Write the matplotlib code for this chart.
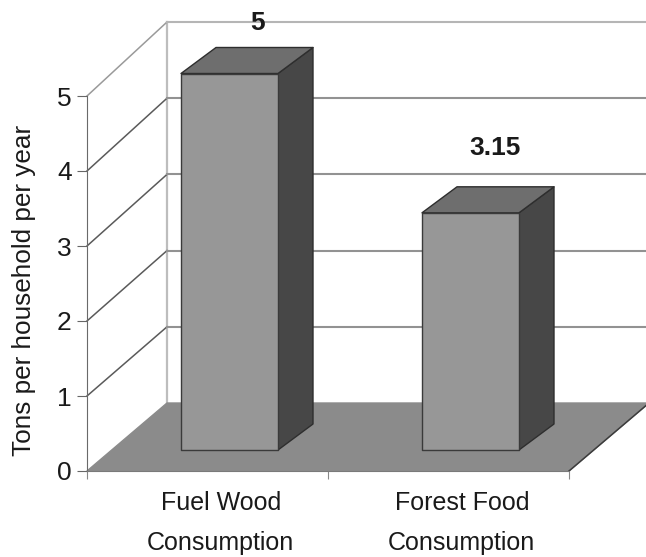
import matplotlib
matplotlib.use("Agg")
import matplotlib.pyplot as plt
from matplotlib.patches import Polygon

categories = ["Fuel Wood\nConsumption", "Forest Food\nConsumption"]
values = [5, 3.15]
value_labels = ["5", "3.15"]
yticks = [0, 1, 2, 3, 4, 5]
ylabel = "Tons per household per year"

plt.rcParams['font.family'] = ['Liberation Sans', 'DejaVu Sans']
W, H = 646, 557
fig = plt.figure(figsize=(W/100, H/100), dpi=100)
X0, X1, Y0, Y5 = 87, 569, 471, 96
ax = fig.add_axes([X0/W, 1-Y0/H, (X1-X0)/W, (Y0-Y5)/H])
ax.set_xlim(0, len(categories))
ax.set_ylim(0, 5)
ax.patch.set_visible(False)

# Pseudo-3D depth, expressed in data units
ux = (X1-X0)/len(categories)
uy = (Y0-Y5)/5
DX, DY = 80/ux, 68/uy
WALL = 76.2/uy     # back wall scale (slight perspective)
BAR = 75.3/uy      # bar scale

def poly(pts, fc, ec='#555555', lw=1.0, z=2):
    ax.add_patch(Polygon(pts, closed=True, facecolor=fc, edgecolor=ec,
                         linewidth=lw, zorder=z, clip_on=False, joinstyle='round'))

# floor
poly([(0, 0), (2, 0), (2+DX, DY), (DX, DY)], '#8b8b8b', ec='#8b8b8b', z=1)
ax.plot([2, 2+DX], [0, DY], color='#3c3c3c', lw=1.1, clip_on=False, zorder=1.5)

# gridlines: side wall diagonal + back wall horizontal
for v in yticks:
    if v > 0:
        top = v == yticks[-1]
        ax.plot([0, DX], [v, v*WALL+DY], color='#9a9a9a' if top else '#5a5a5a', lw=1.1,
                clip_on=False, zorder=0.5)
        ax.plot([DX, 2+DX], [v*WALL+DY, v*WALL+DY], color='#b5b5b5' if top else '#929292',
                lw=1.5, clip_on=False, zorder=0.5)
ax.plot([DX, DX], [DY, 5*WALL+DY], color='#bdbdbd', lw=1.6, clip_on=False, zorder=0.4)

# bars
bw = 97/ux
off_x = 22/ux + 0.0
off_y = 21/uy
bdx, bdy = 35/ux, 26/uy
label_dx = [11/ux, 7/ux]
label_dy = [25/uy, 39/uy]
for i, v in enumerate(values):
    xl = i + 0.5 - bw/2 + off_x
    xr = xl + bw
    yb = off_y
    yt = v*BAR + off_y
    poly([(xr, yb), (xr+bdx, yb+bdy), (xr+bdx, yt+bdy), (xr, yt)], '#474747', ec='#2e2e2e')
    poly([(xl, yt), (xr, yt), (xr+bdx, yt+bdy), (xl+bdx, yt+bdy)], '#6e6e6e', ec='#2e2e2e')
    poly([(xl, yb), (xr, yb), (xr, yt), (xl, yt)], '#979797', ec='#3a3a3a', z=3)
    ax.text(xl + bw/2 + bdx/2 + label_dx[i], yt + bdy + label_dy[i], value_labels[i],
            ha='center', va='center', fontsize=19, fontweight='bold', color='#1a1a1a',
            clip_on=False, zorder=5)

# axes
for s in ['top', 'right']:
    ax.spines[s].set_visible(False)
ax.spines['left'].set_color('#6a6a6a')
ax.spines['bottom'].set_color('#7a7a7a')
ax.set_yticks(yticks)
ax.set_xticks([0, 1, 2])
ax.set_xticklabels([])
ax.tick_params(axis='y', length=7, color='#666666', labelsize=19, pad=4, labelcolor='#1a1a1a')
ax.tick_params(axis='x', length=6, color='#888888')
for i, c in enumerate(categories):
    ax.text(i + 0.5 + 0.055, -0.26, c, ha='center', va='top', fontsize=18,
            color='#1a1a1a', linespacing=1.85, clip_on=False)
fig.text(24/W, 1-290/H, ylabel, rotation=90, ha='center', va='center',
         fontsize=18.8, color='#1a1a1a')
fig.savefig("out.png", dpi=100)
